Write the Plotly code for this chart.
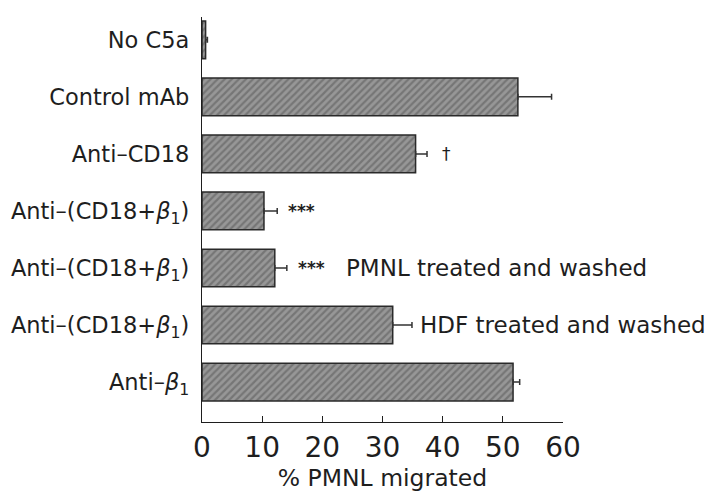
import plotly.graph_objects as go

categories = [
    "No C5a",
    "Control mAb",
    "Anti–CD18",
    "Anti–(CD18+<i>β</i><sub>1</sub>)",
    "Anti–(CD18+<i>β</i><sub>1</sub>)",
    "Anti–(CD18+<i>β</i><sub>1</sub>)",
    "Anti–<i>β</i><sub>1</sub>",
]
values = [0.6, 52.5, 35.5, 10.3, 12.1, 31.7, 51.7]
errors = [0.3, 5.6, 1.9, 2.2, 2.0, 3.2, 1.1]
positions = list(range(len(categories)))

# annotations: (row, x value, text)
marks = [
    (2, 40.7, "†"),
    (3, 16.6, "<b>***</b>"),
    (4, 18.2, "<b>***</b>"),
]
notes = [
    (4, 23.6, "PMNL treated and washed"),
    (5, 35.9, "HDF treated and washed"),
]
x_ticks = [0, 10, 20, 30, 40, 50, 60]

ink = "#1e1e1e"
fig = go.Figure()
fig.add_trace(go.Bar(
    y=positions, x=values, orientation="h", width=0.66,
    marker=dict(
        color="#8a8a8a",
        line=dict(color="#2a2a2a", width=1.5),
        pattern=dict(shape="/", fgcolor="#555555", bgcolor="#979797", size=5, solidity=0.45),
    ),
    error_x=dict(type="data", array=errors, symmetric=False, arrayminus=[0]*len(errors),
                 color="#333333", thickness=1.5, width=3),
))

ann = []
for r, xv, t in marks:
    ann.append(dict(x=xv, y=r, xref="x", yref="y", text=t, showarrow=False,
                    xanchor="center", yanchor="middle",
                    font=dict(family="DejaVu Sans", size=17, color=ink)))
for r, xv, t in notes:
    ann.append(dict(x=xv, y=r, xref="x", yref="y", text=t, showarrow=False,
                    xanchor="left", yanchor="middle",
                    font=dict(family="DejaVu Sans", size=23, color=ink)))

fig.update_layout(
    width=713, height=493,
    margin=dict(l=194, r=158, t=9, b=79),
    paper_bgcolor="white", plot_bgcolor="white",
    showlegend=False,
    annotations=ann,
    xaxis=dict(
        range=[0, 60], tickvals=x_ticks, ticktext=[str(v) for v in x_ticks],
        automargin=False,
        ticks="inside", ticklen=6, tickwidth=1.2, tickcolor=ink,
        showline=True, linecolor=ink, linewidth=1.3, showgrid=False, zeroline=False,
        tickfont=dict(family="DejaVu Sans", size=28, color=ink),
        ticklabelstandoff=0,
        title=dict(text="% PMNL migrated", standoff=2,
                   font=dict(family="DejaVu Sans", size=23.5, color=ink)),
    ),
    yaxis=dict(
        range=[6.70, -0.4], tickvals=positions, ticktext=categories,
        automargin=False,
        ticks="", showline=True, linecolor=ink, linewidth=1.3, showgrid=False, zeroline=False,
        ticklabelstandoff=7,
        tickfont=dict(family="DejaVu Sans", size=22.5, color=ink),
    ),
)

fig.write_html("out.html")
